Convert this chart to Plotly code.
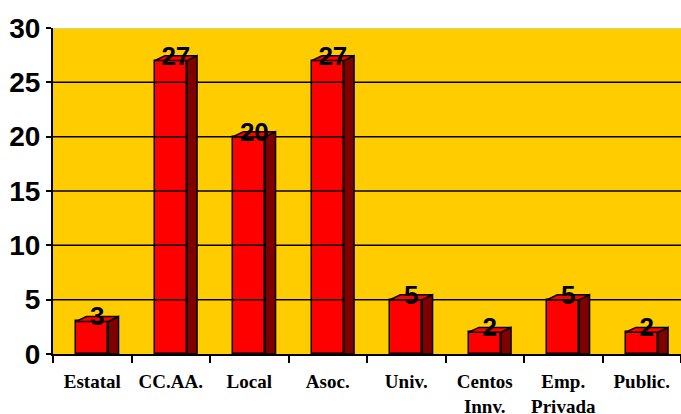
import plotly.graph_objects as go

categories = ["Estatal", "CC.AA.", "Local", "Asoc.", "Univ.", "Centos<br>Innv.", "Emp.<br>Privada", "Public."]
values = [3, 27, 20, 27, 5, 2, 5, 2]
y_max = 30
y_step = 5
grid_vals = [5, 10, 15, 20, 25]

# bar geometry (in axis units) for the fake 3D look
bar_w = 0.41
dx = 0.13
dy = 0.45

xs = list(range(len(categories)))
x_lo, x_hi = -0.5, len(categories) - 0.5

fig = go.Figure()

# horizontal gridlines behind the bars
gx, gy = [], []
for g in grid_vals:
    gx += [x_lo, x_hi, None]
    gy += [g, g, None]
fig.add_trace(go.Scatter(
    x=gx, y=gy, mode="lines", line=dict(color="black", width=1.5),
    hoverinfo="skip", showlegend=False
))

# faint top edge of the plot area
fig.add_trace(go.Scatter(
    x=[x_lo, x_hi], y=[y_max, y_max], mode="lines",
    line=dict(color="#D8D860", width=2.5),
    hoverinfo="skip", showlegend=False, cliponaxis=False
))

# front faces
fig.add_trace(go.Bar(
    x=xs, y=values, width=bar_w,
    marker=dict(color="#FF0000", line=dict(color="black", width=1.5)),
    hoverinfo="skip", showlegend=False
))

# side and top faces built from the values
side_x, side_y, top_x, top_y = [], [], [], []
for i, v in zip(xs, values):
    xl = i - bar_w / 2
    xr = i + bar_w / 2
    side_x += [xr, xr + dx, xr + dx, xr, xr, None]
    side_y += [0, 0, v + dy, v, 0, None]
    top_x += [xl, xl + dx, xr + dx, xr, xl, None]
    top_y += [v, v + dy, v + dy, v, v, None]

fig.add_trace(go.Scatter(
    x=side_x, y=side_y, mode="lines", fill="toself",
    fillcolor="#800000", line=dict(color="black", width=1.5),
    hoverinfo="skip", showlegend=False
))
fig.add_trace(go.Scatter(
    x=top_x, y=top_y, mode="lines", fill="toself",
    fillcolor="#FF0000", line=dict(color="black", width=1.5),
    hoverinfo="skip", showlegend=False
))

# value labels
fig.add_trace(go.Scatter(
    x=[i + dx / 2 for i in xs], y=[v + dy / 2 for v in values],
    mode="text", text=[str(v) for v in values],
    textposition="middle center",
    textfont=dict(family="Liberation Sans", size=26, color="black", weight="bold"),
    hoverinfo="skip", showlegend=False, cliponaxis=False
))

fig.update_layout(
    width=681, height=414,
    margin=dict(l=53, r=0, t=28, b=60),
    paper_bgcolor="white",
    plot_bgcolor="#FFCC00",
    bargap=0,
)

fig.update_xaxes(
    range=[x_lo, x_hi],
    tickvals=xs, ticktext=categories,
    # invisible major ticks just push the labels further down
    ticks="outside", ticklen=9, tickcolor="rgba(0,0,0,0)",
    tickfont=dict(family="Liberation Serif", size=19, color="black", weight="bold"),
    showgrid=False, zeroline=False, automargin=False,
    showline=True, linecolor="black", linewidth=2,
    minor=dict(tickvals=[i - 0.5 for i in range(len(categories) + 1)],
               ticks="outside", ticklen=7, tickcolor="black", tickwidth=2, showgrid=False),
)
fig.update_yaxes(
    range=[0, y_max], tick0=0, dtick=y_step,
    ticks="outside", ticklen=5, tickcolor="black", tickwidth=2,
    tickfont=dict(family="Liberation Sans", size=28, color="black", weight="bold"),
    showgrid=False, zeroline=False, automargin=False,
    showline=True, linecolor="black", linewidth=2,
)

# drop the page's default body margin so the figure sits at the window origin
fig.write_html("out.html", config={"displayModeBar": False},
               post_script="document.body.style.margin='0';")
